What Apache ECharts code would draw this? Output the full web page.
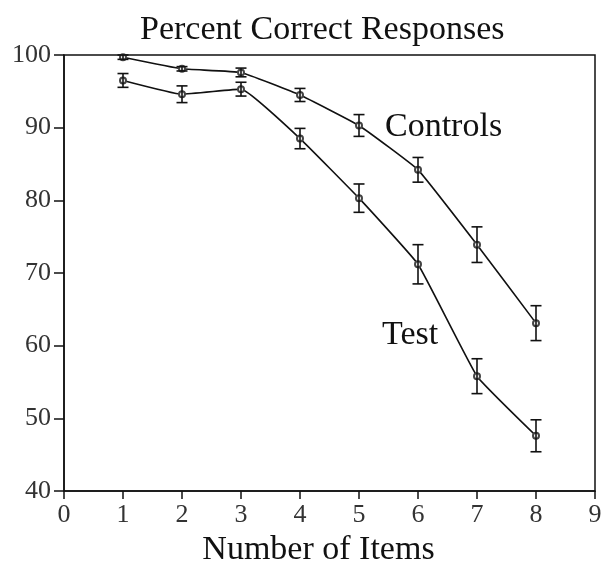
<!DOCTYPE html>
<html><head><meta charset="utf-8">
<script src="https://cdn.jsdelivr.net/npm/echarts@6/dist/echarts.min.js"></script>
<style>html,body{margin:0;padding:0;background:#fff}#c{width:601px;height:561px}</style>
</head><body><div id="c"></div>
<script>
var items = [1, 2, 3, 4, 5, 6, 7, 8];
var controlsMean = [99.7, 98.1, 97.6, 94.5, 90.3, 84.2, 73.9, 63.1];
var controlsErr  = [0.3, 0.3, 0.6, 0.9, 1.5, 1.7, 2.45, 2.4];
var testMean     = [96.5, 94.6, 95.3, 88.5, 80.3, 71.2, 55.8, 47.6];
var testErr      = [0.95, 1.15, 0.95, 1.4, 1.95, 2.7, 2.4, 2.2];
var xTicks = [0, 1, 2, 3, 4, 5, 6, 7, 8, 9];
var yTicks = [40, 50, 60, 70, 80, 90, 100];

var FONT = '"Liberation Serif", "DejaVu Serif", serif';
function pts(xs, ys) { return xs.map(function (x, i) { return [x, ys[i]]; }); }
function errData(xs, m, e) { return xs.map(function (x, i) { return [x, m[i] - e[i], m[i] + e[i]]; }); }
function errRender(params, api) {
  var lo = api.coord([api.value(0), api.value(1)]);
  var hi = api.coord([api.value(0), api.value(2)]);
  var w = 5.5;
  var st = { stroke: '#111', lineWidth: 1.6 };
  return { type: 'group', children: [
    { type: 'line', shape: { x1: lo[0], y1: lo[1], x2: hi[0], y2: hi[1] }, style: st },
    { type: 'line', shape: { x1: lo[0] - w, y1: lo[1], x2: lo[0] + w, y2: lo[1] }, style: st },
    { type: 'line', shape: { x1: hi[0] - w, y1: hi[1], x2: hi[0] + w, y2: hi[1] }, style: st }
  ]};
}
var chart = echarts.init(document.getElementById('c'), null, { renderer: 'canvas' });
chart.setOption({
  animation: false,
  backgroundColor: '#fff',
  title: { text: 'Percent Correct Responses', left: 135, top: 8,
    textStyle: { fontFamily: FONT, fontSize: 34, fontWeight: 'normal', color: '#111' } },
  grid: { left: 64, right: 6, top: 55, bottom: 70, show: true, borderColor: '#111', borderWidth: 1.5,
    backgroundColor: 'transparent', containLabel: false, outerBoundsMode: 'none' },
  xAxis: { type: 'value', min: xTicks[0], max: xTicks[xTicks.length - 1], interval: 1,
    name: 'Number of Items', nameLocation: 'middle', nameGap: 36,
    nameTextStyle: { fontFamily: FONT, fontSize: 34, color: '#111', padding: [0, 22, 0, 0] },
    axisLine: { lineStyle: { color: '#111', width: 1.5 } },
    axisTick: { inside: false, length: 8, lineStyle: { color: '#111', width: 1.5 } },
    axisLabel: { fontFamily: FONT, fontSize: 26, color: '#333', margin: 11 },
    splitLine: { show: false } },
  yAxis: { type: 'value', min: yTicks[0], max: yTicks[yTicks.length - 1], interval: 10,
    axisLine: { show: true, lineStyle: { color: '#111', width: 1.5 } },
    axisTick: { show: true, length: 10, lineStyle: { color: '#111', width: 1.5 } },
    axisLabel: { fontFamily: FONT, fontSize: 26, color: '#333', margin: 13 },
    splitLine: { show: false } },
  series: [
    { name: 'Controls', type: 'line', data: pts(items, controlsMean), smooth: 0.1,
      symbol: 'emptyCircle', symbolSize: 6, lineStyle: { color: '#111', width: 1.6 },
      itemStyle: { color: '#444', borderColor: '#444', borderWidth: 1 }, z: 3 },
    { name: 'Test', type: 'line', data: pts(items, testMean), smooth: 0.1,
      symbol: 'emptyCircle', symbolSize: 6, lineStyle: { color: '#111', width: 1.6 },
      itemStyle: { color: '#444', borderColor: '#444', borderWidth: 1 }, z: 3 },
    { type: 'custom', renderItem: errRender, data: errData(items, controlsMean, controlsErr), z: 4 },
    { type: 'custom', renderItem: errRender, data: errData(items, testMean, testErr), z: 4 }
  ],
  graphic: [
    { type: 'text', left: 385, top: 110, style: { text: 'Controls', font: '34px ' + FONT, fill: '#111' } },
    { type: 'text', left: 382, top: 318, style: { text: 'Test', font: '34px ' + FONT, fill: '#111' } }
  ]
});
</script></body></html>
